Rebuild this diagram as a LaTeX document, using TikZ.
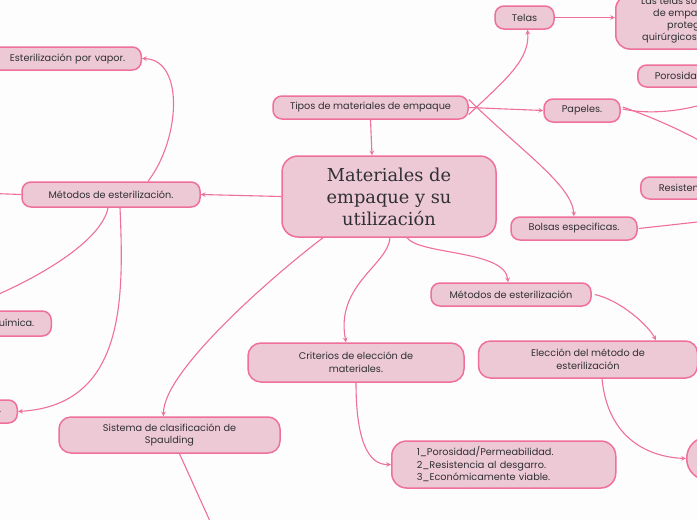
\documentclass[tikz,border=0pt]{standalone}
\usepackage{fontspec}
\setmainfont{Poppins}
\newfontfamily\titlefont{DejaVu Serif}
\definecolor{rosefill}{RGB}{236,201,213}
\definecolor{roseline}{RGB}{239,112,152}
\definecolor{inktext}{RGB}{48,48,52}
\definecolor{paper}{RGB}{253,253,253}
\usetikzlibrary{positioning,arrows}

\begin{document}
\begin{tikzpicture}[
    x=1pt, y=-1pt,
    topic/.style={rectangle, rounded corners=9pt, draw=roseline, fill=rosefill, line width=1.5pt, text=inktext, align=center, inner sep=0pt, font=\fontsize{9.7}{13}\selectfont},
    root/.style={topic, rounded corners=16pt, font=\titlefont\fontsize{17.8}{22}\selectfont},
    rightstub/.style={topic, anchor=west, align=left, text width=90pt, inner xsep=17pt},
    leftstub/.style={topic, anchor=east, align=right, text width=150pt, inner xsep=16pt},
    arrow/.style={draw=roseline, line width=1.1pt, ->, >=stealth},
    line/.style={draw=roseline, line width=1.1pt}
]
\useasboundingbox (0,0) rectangle (697,520);
\fill[paper] (0,0) rectangle (697,520);
\clip (0,0) rectangle (697,520);

% Nodes
\node (root) [root, minimum width=214, minimum height=81] at (389,196.5) {Materiales de\\empaque y su\\utilización};
\node (tipos) [topic, minimum width=195, minimum height=23] at (370.5,107.5) {Tipos de materiales de empaque};
\node (telas) [topic, minimum width=59, minimum height=23] at (524.5,17.5) {Telas};
\node (telasdesc) [topic, rounded corners=14pt, minimum width=215, minimum height=54, anchor=west] at (615,22) {};
\node (telastexto) [anchor=north west, align=left, inner sep=0pt, text=inktext, font=\fontsize{9.7}{12}\selectfont] at (641,-3) {Las telas son\\\hspace*{12pt}de empaque\\\hspace*{26pt}protegen\\\hspace*{1pt}quirúrgicos};
\node (porosidad) [rightstub, minimum height=22] at (637,76) {Porosidad};
\node (papeles) [topic, minimum width=76, minimum height=23] at (582,110.5) {Papeles.};
\node (resistencia) [rightstub, minimum height=22, inner xsep=18pt] at (640,188) {Resistencia};
\node (bolsas) [topic, minimum width=126, minimum height=23] at (574,228.5) {Bolsas especificas.};
\node (metder) [topic, minimum width=160, minimum height=23] at (511,294.5) {Métodos de esterilización};
\node (eleccion) [topic, rounded corners=12pt, minimum width=219, minimum height=37] at (588,359.5) {Elección del método de\\esterilización};
\node (metodoelegido) [topic, rounded corners=21pt, minimum width=80, minimum height=43, anchor=west] at (686,458.5) {};
\node (criterios) [topic, rounded corners=13pt, minimum width=216, minimum height=39] at (356,362.5) {Criterios de elección de\\materiales.};
\node (lista) [topic, rounded corners=15pt, anchor=west, align=left, text width=174pt, inner xsep=25pt, minimum height=47, font=\fontsize{9.7}{12.5}\selectfont] at (391,464.5) {1\_Porosidad/Permeabilidad.\\2\_Resistencia al desgarro.\\3\_Económicamente viable.};
\node (spaulding) [topic, rounded corners=12pt, minimum width=221, minimum height=36, font=\fontsize{9.7}{12}\selectfont] at (169.5,435) {Sistema de clasificación de\\Spaulding};
\node (metizq) [topic, minimum width=178, minimum height=25] at (111,194.5) {Métodos de esterilización.};
\node (vapor) [leftstub, minimum height=23] at (142,58.5) {Esterilización por vapor.};
\node (quimica) [leftstub, minimum height=25, inner xsep=17pt] at (52,323.5) {Esterilización química.};
\node (otro) [leftstub, minimum height=23] at (18,411.5) {.};

% Free ends
\coordinate (offizq) at (-20,193);
\coordinate (offpap1) at (730,95);
\coordinate (offpap2) at (740,165);
\coordinate (offbolsas) at (720,219.5);
\coordinate (offspaulding) at (214,530);

% Arrows
\draw [arrow] (tipos.south) -- ([xshift=-17pt]root.north);
\draw [arrow] ([yshift=-7pt]tipos.east) .. controls (505,80) and (530,60) .. ([xshift=3pt]telas.south);
\draw [arrow] (tipos.east) -- (papeles.west);
\draw [arrow] ([yshift=8pt]tipos.east) .. controls (520,150) and (572,185) .. (bolsas.north);
\draw [arrow] (telas.east) -- (telas.east -| telasdesc.west);
\draw [line] ([xshift=2pt,yshift=1.5pt]papeles.east) .. controls (650,115) and (690,112) .. (offpap1);
\draw [line] ([xshift=2pt,yshift=3.5pt]papeles.east) .. controls (660,120) and (700,138) .. (offpap2);
\draw [line] ([xshift=1pt]bolsas.east) -- (offbolsas);
\draw [arrow] (root.west) -- (metizq.east);
\draw [arrow] ([xshift=37pt]metizq.north) .. controls (180,140) and (185,60) .. (vapor.east);
\draw [line] (metizq.west) -- (offizq);
\draw [arrow] ([xshift=-3pt]metizq.south) .. controls (102,240) and (40,280) .. (quimica.north);
\draw [arrow] ([xshift=9pt]metizq.south) .. controls (124,300) and (125,405) .. (otro.east);
\draw [arrow] ([xshift=-66pt]root.south) .. controls (280,270) and (163,370) .. ([xshift=-6pt]spaulding.north);
\draw [arrow] ([xshift=1pt]root.south) .. controls (388,265) and (335,285) .. ([xshift=-10pt]criterios.north);
\draw [arrow] ([xshift=18pt]root.south) .. controls (420,255) and (505,250) .. ([xshift=-3pt]metder.north);
\draw [arrow] ([xshift=3pt]metder.east) .. controls (620,300) and (648,325) .. ([xshift=68pt]eleccion.north);
\draw [arrow] ([xshift=14pt]eleccion.south) .. controls (608,440) and (650,457) .. (metodoelegido.west);
\draw [arrow] (criterios.south) .. controls (356,440) and (368,465) .. (lista.west);
\draw [line] ([xshift=10pt]spaulding.south) -- (offspaulding);

\end{tikzpicture}
\end{document}
